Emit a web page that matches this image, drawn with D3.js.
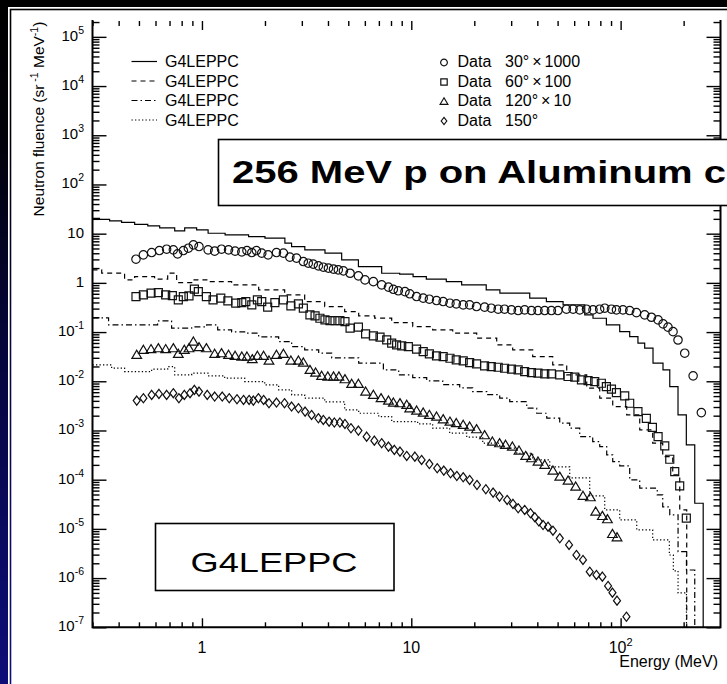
<!DOCTYPE html>
<html>
<head>
<meta charset="utf-8">
<script src="https://cdn.jsdelivr.net/npm/d3@7"></script>
<style>
  html, body { margin: 0; padding: 0; background: #000; }
  svg { display: block; }
  text { font-family: "Liberation Sans", Arial, Helvetica, sans-serif; fill: #000; }
</style>
</head>
<body>
<svg id="chart" width="727" height="684"></svg>
<script>
// ---------------- data ----------------
const energyRange = [0.3, 300];          // MeV
const fluenceRange = [1e-7, 2.1e5];      // sr^-1 MeV^-1

const xTickMajor = [1, 10, 100];
const xTickLabels = ["1", "10", "10^2"];
const yTickExponents = [5, 4, 3, 2, 1, 0, -1, -2, -3, -4, -5, -6, -7];

// G4LEPPC histograms (bin edges in MeV, one value per bin)
const g4Edges30 = [0.3, 0.324, 0.362, 0.413, 0.477, 0.551, 0.628, 0.741, 0.827, 0.943,
  1.07, 1.29, 1.67, 2.0, 2.49, 2.68, 3.1, 3.87, 4.65, 5.59,
  7.22, 8.8, 10.2, 11.8, 14.7, 17.4, 22.8, 26.5, 36.8, 44.2,
  53.1, 67.4, 73.8, 85.5, 99, 110.5, 121, 130.3, 142.8, 159.4,
  171.7, 188, 206, 226, 248];
const g4Values30 = [20.5, 19.5, 18.2, 17.0, 15.5, 14.4, 13.1, 11.4, 13.1, 11.9,
  10.2, 9.46, 8.74, 8.11, 6.41, 5.47, 4.69, 4.02, 2.94, 2.14,
  1.57, 1.5, 1.34, 1.19, 1.06, 0.91, 0.72, 0.618, 0.489, 0.417,
  0.357, 0.224, 0.191, 0.140, 0.102, 0.081, 0.0594, 0.047, 0.0233, 0.0170,
  0.0078, 0.00207, 0.00051, 3.32e-5];

const g4Edges60 = [0.3, 0.332, 0.427, 0.477, 0.594, 0.686, 0.757, 0.893, 1.077, 1.386,
  1.866, 2.484, 3.095, 3.857, 4.806, 5.607, 6.686, 8.06, 10.16, 12.65,
  15.77, 20.53, 25.59, 30.51, 38.02, 47.38, 55.27, 68.87, 79.47, 91.68,
  106.9, 123.4, 142.3, 158.9, 177.4, 191.6, 206.9];
const g4Values60 = [1.84, 1.575, 1.151, 1.343, 1.189, 1.575, 1.014, 1.151, 1.063, 0.911,
  0.721, 0.570, 0.417, 0.330, 0.261, 0.2134, 0.1915, 0.156, 0.1293, 0.1108,
  0.0949, 0.0751, 0.0549, 0.0434, 0.0318, 0.0215, 0.01348, 0.00723, 0.00453, 0.00306,
  0.00207, 0.00103, 0.000551, 0.000294, 0.000125, 2.43e-5];

const g4Edges120 = [0.3, 0.358, 0.614, 0.716, 0.893, 1.053, 1.189, 1.386, 1.600, 1.866,
  2.325, 2.683, 3.095, 3.611, 4.166, 5.607, 7.357, 8.708, 10.16, 11.85,
  14.13, 17.03, 19.65, 22.93, 26.45, 29.53, 35.60, 39.73, 44.37, 51.17,
  57.13, 63.77, 73.56, 79.47, 85.81, 91.68, 99.0, 110.5, 123.4, 149.6,
  158.9, 171.7, 188.1, 206.3, 226];
const g4Values120 = [0.1943, 0.140, 0.1689, 0.120, 0.1274, 0.140, 0.1108, 0.1009, 0.0949, 0.0798,
  0.0641, 0.0507, 0.0434, 0.0372, 0.0299, 0.0233, 0.01703, 0.01348, 0.01188, 0.01018,
  0.00856, 0.00733, 0.00617, 0.00536, 0.00453, 0.00386, 0.00284, 0.00224, 0.001776, 0.001405,
  0.001112, 0.00075, 0.000594, 0.00047, 0.000319, 0.000233, 0.00019, 9.89e-5, 6.71e-5, 4.9e-5,
  2.79e-5, 1.92e-5, 3.45e-6, 1.46e-6];

const g4Edges150 = [0.3, 0.3703, 0.427, 0.575, 0.686, 0.741, 0.893, 1.077, 1.284, 1.600,
  1.994, 2.325, 2.683, 3.095, 3.857, 4.806, 5.607, 6.988, 8.06, 10.73,
  12.65, 15.25, 18.40, 21.94, 26.45, 31.89, 38.02, 45.86, 57.13, 71.17,
  83.95, 99.0, 119.4, 142.3, 170.9, 178.6, 188.1, 206.3];
const g4Values150 = [0.02153, 0.01845, 0.01573, 0.01761, 0.01988, 0.01348, 0.0146, 0.01286, 0.01155, 0.00985,
  0.00844, 0.00668, 0.00528, 0.00453, 0.00381, 0.00262, 0.00224, 0.00191, 0.001515, 0.00136,
  0.001112, 0.00088, 0.00073, 0.000551, 0.000436, 0.000345, 0.000252, 0.000182, 0.0001086, 4.68e-5,
  2.43e-5, 1.52e-5, 9.52e-6, 5.96e-6, 2.95e-6, 1.4e-6, 4.99e-7];

// Measured data points
const data30E = [0.484, 0.525, 0.575, 0.626, 0.678, 0.730, 0.765, 0.815, 0.861, 0.910,
  0.968, 1.07, 1.15, 1.24, 1.34, 1.44, 1.55, 1.64, 1.73, 1.82,
  1.93, 2.07, 2.27, 2.45, 2.63, 2.83, 3.05, 3.22, 3.40, 3.60,
  3.80, 4.02, 4.25, 4.48, 4.74, 5.10, 5.59, 6.01, 6.59, 7.22,
  7.78, 8.21, 8.67, 9.33, 9.83, 10.6, 11.4, 12.2, 13.2, 14.2,
  15.3, 16.4, 17.7, 19.0, 20.5, 22.4, 24.1, 26.0, 27.9, 30.1,
  32.4, 34.8, 37.5, 40.3, 43.4, 46.7, 50.2, 55.1, 59.3, 63.8,
  68.7, 73.8, 79.4, 84.0, 90.4, 95.5, 102.6, 110.5, 119, 130.3,
  140.3, 151, 159.5, 168.4, 178, 188, 202.4, 222, 243];
const data30V = [3.03, 3.71, 4.13, 4.54, 4.84, 4.69, 3.89, 4.54, 5.07, 5.92,
  5.47, 4.69, 4.41, 4.84, 4.69, 4.41, 4.27, 4.54, 4.13, 4.54,
  4.02, 3.71, 4.13, 4.02, 3.33, 3.18, 2.71, 2.51, 2.40, 2.22,
  2.08, 1.99, 1.90, 1.84, 1.75, 1.57, 1.39, 1.15, 1.06, 0.91,
  0.82, 0.74, 0.69, 0.665, 0.60, 0.527, 0.489, 0.466, 0.437, 0.417,
  0.386, 0.374, 0.357, 0.357, 0.330, 0.321, 0.306, 0.292, 0.292, 0.283,
  0.274, 0.283, 0.274, 0.274, 0.274, 0.274, 0.274, 0.292, 0.292, 0.283,
  0.292, 0.283, 0.292, 0.306, 0.292, 0.283, 0.283, 0.274, 0.249, 0.224,
  0.200, 0.177, 0.147, 0.126, 0.102, 0.069, 0.0372, 0.0129, 0.00231];

const data60E = [0.484, 0.525, 0.571, 0.619, 0.671, 0.722, 0.771, 0.815, 0.867, 0.920,
  0.961, 1.05, 1.13, 1.23, 1.33, 1.45, 1.55, 1.62, 1.73, 1.84,
  1.93, 2.06, 2.23, 2.45, 2.66, 2.89, 3.05, 3.28, 3.47, 3.66,
  3.87, 4.09, 4.32, 4.56, 4.82, 5.10, 5.59, 6.05, 6.59, 7.09,
  7.63, 8.06, 8.51, 9.00, 9.68, 10.6, 11.4, 12.2, 13.2, 14.2,
  15.3, 16.4, 17.7, 19.0, 20.5, 22.4, 24.1, 26.0, 27.9, 30.1,
  32.4, 34.8, 37.5, 40.3, 43.4, 46.7, 51.2, 56.1, 60.4, 65.0,
  69.9, 75.2, 80.9, 85.5, 90.4, 95.5, 104.6, 110.5, 121, 132.7,
  141.8, 151, 162.5, 171.7, 181.3, 191.5, 206];
const data60V = [0.527, 0.570, 0.618, 0.635, 0.570, 0.552, 0.451, 0.527, 0.544, 0.745,
  0.665, 0.527, 0.451, 0.489, 0.431, 0.386, 0.398, 0.417, 0.357, 0.451,
  0.417, 0.321, 0.398, 0.451, 0.341, 0.374, 0.306, 0.224, 0.213, 0.191,
  0.177, 0.171, 0.171, 0.171, 0.163, 0.120, 0.126, 0.0919, 0.0837, 0.0787,
  0.0694, 0.0594, 0.0549, 0.0524, 0.0507, 0.0449, 0.0401, 0.0360, 0.0328, 0.0318,
  0.0294, 0.0272, 0.0260, 0.0240, 0.0226, 0.0205, 0.0199, 0.0193, 0.0184, 0.0176,
  0.0170, 0.0157, 0.0150, 0.0146, 0.0141, 0.0141, 0.0135, 0.0125, 0.0121, 0.0107,
  0.0103, 0.00985, 0.00912, 0.00780, 0.00690, 0.00589, 0.00505, 0.00358, 0.00242, 0.00177,
  0.00116, 0.00075, 0.000485, 0.00026, 0.000146, 7.46e-5, 1.65e-5];

const data120E = [0.488, 0.525, 0.571, 0.619, 0.671, 0.730, 0.771, 0.824, 0.867, 0.910,
  0.968, 1.05, 1.15, 1.24, 1.34, 1.44, 1.55, 1.64, 1.74, 1.84,
  1.97, 2.09, 2.27, 2.45, 2.66, 2.89, 3.05, 3.28, 3.49, 3.73,
  3.99, 4.25, 4.51, 4.82, 5.19, 5.59, 6.05, 6.59, 7.17, 7.78,
  8.21, 8.83, 9.51, 9.83, 10.6, 11.4, 12.2, 13.2, 14.2, 15.3,
  16.4, 17.7, 19.0, 20.5, 22.4, 24.4, 26.4, 28.2, 30.4, 32.7,
  35.2, 37.5, 40.3, 43.4, 47.5, 51.2, 56.1, 61.0, 66.1, 71.7,
  76.0, 81.8, 86.5, 91.4, 96.1];
const data120V = [0.0344, 0.0435, 0.0449, 0.0470, 0.0449, 0.0470, 0.0360, 0.0435, 0.0470, 0.0641,
  0.0493, 0.0470, 0.0360, 0.0372, 0.0344, 0.0328, 0.0318, 0.0318, 0.0281, 0.0328,
  0.0328, 0.0263, 0.0344, 0.0360, 0.0263, 0.0263, 0.0240, 0.0170, 0.0150, 0.0129,
  0.0125, 0.0125, 0.0125, 0.0110, 0.00885, 0.00885, 0.00617, 0.00529, 0.00453, 0.00405,
  0.00368, 0.00358, 0.00331, 0.00283, 0.00254, 0.00231, 0.00207, 0.00191, 0.00169, 0.00151,
  0.00141, 0.00130, 0.00120, 0.00106, 0.00080, 0.000594, 0.000551, 0.000509, 0.00047, 0.00039,
  0.000304, 0.000273, 0.000233, 0.000200, 0.000153, 0.000115, 9.57e-5, 7.23e-5, 4.68e-5, 4.40e-5,
  2.24e-5, 1.83e-5, 1.57e-5, 7.89e-6, 6.76e-6];

const data150E = [0.488, 0.525, 0.575, 0.623, 0.678, 0.730, 0.776, 0.824, 0.877, 0.920,
  0.968, 1.06, 1.15, 1.25, 1.35, 1.47, 1.58, 1.68, 1.76, 1.86,
  1.97, 2.09, 2.27, 2.48, 2.68, 2.89, 3.11, 3.34, 3.60, 3.80,
  4.05, 4.29, 4.56, 4.82, 5.15, 5.59, 6.12, 6.66, 7.22, 7.78,
  8.30, 8.83, 9.51, 10.4, 11.2, 12.2, 13.3, 14.3, 15.4, 16.5,
  17.7, 19.0, 20.6, 22.7, 24.6, 26.4, 28.7, 30.6, 32.4, 34.8,
  37.1, 38.9, 40.7, 42.6, 45.0, 47.5, 51.2, 56.7, 61.5, 66.1,
  71.2, 76.6, 81.8, 87.1, 91.4, 96.1, 106.6];
const data150V = [0.00405, 0.00453, 0.00529, 0.00554, 0.00529, 0.00573, 0.00453, 0.00529, 0.00573, 0.00668,
  0.00617, 0.00529, 0.00489, 0.00489, 0.00453, 0.00432, 0.00418, 0.00418, 0.00405, 0.00453,
  0.00418, 0.00358, 0.00369, 0.00358, 0.00306, 0.00283, 0.00242, 0.00207, 0.00177, 0.00164,
  0.00151, 0.00145, 0.00145, 0.00136, 0.00111, 0.000994, 0.00075, 0.000622, 0.000551, 0.00047,
  0.000403, 0.000372, 0.000304, 0.000294, 0.000252, 0.000208, 0.000171, 0.000153, 0.000135, 0.000119,
  0.000112, 9.89e-5, 7.82e-5, 6.4e-5, 5.46e-5, 4.53e-5, 3.88e-5, 3.22e-5, 2.63e-5, 2.43e-5,
  2.08e-5, 1.73e-5, 1.41e-5, 1.2e-5, 1.11e-5, 9.2e-6, 6.45e-6, 4.72e-6, 2.95e-6, 2.34e-6,
  1.35e-6, 1.16e-6, 1.07e-6, 6.92e-7, 5.06e-7, 3.48e-7, 1.64e-7];

const lineLegendLabels = ["G4LEPPC", "G4LEPPC", "G4LEPPC", "G4LEPPC"];
const dataLegendAngles = ["30°", "60°", "120°", "150°"];
const dataLegendFactors = ["1000", "100", "10", ""];
const titleText = "256 MeV p on Aluminum c";
const modelText = "G4LEPPC";

// ---------------- drawing ----------------
const W = 727, H = 684;
const svg = d3.select("#chart");
const defs = svg.append("defs");

// slide background: black at the top fading to navy at the bottom
const grad = defs.append("linearGradient").attr("id", "bg")
  .attr("gradientUnits", "userSpaceOnUse")
  .attr("x1", 0).attr("y1", 0).attr("x2", 0).attr("y2", H);
[[0, "#000000"], [0.2, "#01010a"], [0.5, "#05053a"], [0.8, "#0a0a62"], [1, "#0d0d78"]]
  .forEach(([o, c]) => grad.append("stop").attr("offset", o).attr("stop-color", c));

svg.append("rect").attr("width", W).attr("height", H).attr("fill", "url(#bg)");
svg.append("rect").attr("x", 8).attr("y", 7).attr("width", W - 8).attr("height", H - 7).attr("fill", "#fff");
svg.append("rect").attr("x", 10.5).attr("y", 9.5).attr("width", W).attr("height", H)
  .attr("fill", "none").attr("stroke", "url(#bg)").attr("stroke-width", 1.6);

const plot = { left: 92.5, right: 720.5, top: 21, bottom: 627.3 };
const x = d3.scaleLog().domain(energyRange).range([plot.left, plot.right]);
const y = d3.scaleLog().domain(fluenceRange).range([plot.bottom, plot.top]);

defs.append("clipPath").attr("id", "plotClip").append("rect")
  .attr("x", plot.left).attr("y", plot.top - 2)
  .attr("width", plot.right - plot.left).attr("height", plot.bottom - plot.top + 2);

// minor tick values
const xMinor = [];
[0.1, 1, 10, 100].forEach(d => { for (let k = 2; k <= 9; k++) { const v = d * k; if (v > energyRange[0] && v < energyRange[1] && !xTickMajor.includes(v)) xMinor.push(v); } });
const yMajor = yTickExponents.map(e => Math.pow(10, e));
const yMinor = [];
for (let e = -7; e <= 5; e++) for (let k = 2; k <= 9; k++) { const v = k * Math.pow(10, e); if (v < fluenceRange[1]) yMinor.push(v); }

function drawTicks(axis, transform) {
  const g = svg.append("g").attr("transform", transform).call(axis);
  g.select(".domain").remove();
  g.selectAll("line").attr("stroke", "#000").attr("stroke-width", 1.4);
  g.selectAll("text").remove();
  return g;
}
drawTicks(d3.axisBottom(x).tickValues(xTickMajor).tickSize(-9).tickFormat(""), `translate(0,${plot.bottom})`);
drawTicks(d3.axisBottom(x).tickValues(xMinor).tickSize(-5).tickFormat(""), `translate(0,${plot.bottom})`);
drawTicks(d3.axisTop(x).tickValues(xTickMajor).tickSize(-9).tickFormat(""), `translate(0,${plot.top})`);
drawTicks(d3.axisTop(x).tickValues(xMinor).tickSize(-5).tickFormat(""), `translate(0,${plot.top})`);
drawTicks(d3.axisLeft(y).tickValues(yMajor).tickSize(-14).tickFormat(""), `translate(${plot.left},0)`);
drawTicks(d3.axisLeft(y).tickValues(yMinor).tickSize(-7).tickFormat(""), `translate(${plot.left},0)`);
drawTicks(d3.axisRight(y).tickValues(yMajor).tickSize(-14).tickFormat(""), `translate(${plot.right},0)`);
drawTicks(d3.axisRight(y).tickValues(yMinor).tickSize(-7).tickFormat(""), `translate(${plot.right},0)`);

// frame: left, bottom and right edges
const frame = svg.append("g").attr("stroke", "#000").attr("stroke-width", 2).attr("fill", "none");
frame.append("path").attr("d", `M${plot.left},${plot.top - 1}V${plot.bottom}H${plot.right}V${plot.top - 1}`);

// tick labels
function powLabel(sel, base, exp, supSize, supDy) {
  sel.append("tspan").text(base);
  if (exp !== null) sel.append("tspan").attr("font-size", supSize).attr("dy", supDy).text(exp);
}
yTickExponents.forEach(e => {
  const t = svg.append("text").attr("x", 84).attr("y", y(Math.pow(10, e)) + 4)
    .attr("text-anchor", "end").attr("font-size", 15);
  if (e === 0) powLabel(t, "1", null);
  else if (e === 1) powLabel(t, "10", null);
  else powLabel(t, "10", String(e), 10.5, -7);
});
xTickMajor.forEach((v, i) => {
  const lab = xTickLabels[i];
  const t = svg.append("text").attr("x", x(v)).attr("y", 653)
    .attr("text-anchor", "middle").attr("font-size", 16);
  if (lab.includes("^")) { const [b, e] = lab.split("^"); powLabel(t, b, e, 11, -7); }
  else powLabel(t, lab, null);
});
svg.append("text").attr("x", 718).attr("y", 667).attr("text-anchor", "end")
  .attr("font-size", 16).text("Energy (MeV)");

// y axis title
const yt = svg.append("text").attr("transform", "translate(44,119) rotate(-90)")
  .attr("text-anchor", "middle").attr("font-size", 15.5);
yt.append("tspan").text("Neutron fluence (sr");
yt.append("tspan").attr("font-size", 10.5).attr("dy", -6).text(" -1");
yt.append("tspan").attr("dy", 6).text(" MeV");
yt.append("tspan").attr("font-size", 10.5).attr("dy", -6).text("-1");
yt.append("tspan").attr("dy", 6).text(")");

// histogram lines
const dashStyles = [null, "5,4", "6,3,1.5,3", "1.3,2.2"];
const histos = [[g4Edges30, g4Values30], [g4Edges60, g4Values60], [g4Edges120, g4Values120], [g4Edges150, g4Values150]];
const stepLine = d3.line().x(d => x(d[0])).y(d => y(d[1])).curve(d3.curveStepAfter);
const plotG = svg.append("g").attr("clip-path", "url(#plotClip)");
histos.forEach(([edges, vals], i) => {
  const pts = vals.map((v, k) => [edges[k], v]);
  const last = edges[edges.length - 1];
  pts.push([last, vals[vals.length - 1]]);
  pts.push([last, fluenceRange[0]]);
  plotG.append("path").attr("d", stepLine(pts)).attr("fill", "none")
    .attr("stroke", "#000").attr("stroke-width", 1.2)
    .attr("stroke-dasharray", dashStyles[i]);
});

// marker shapes
function shapePath(kind, s) {
  if (kind === "circle") return `M${-s},0a${s},${s} 0 1,0 ${2 * s},0a${s},${s} 0 1,0 ${-2 * s},0Z`;
  if (kind === "square") return `M${-s},${-s}H${s}V${s}H${-s}Z`;
  if (kind === "triangle") return `M0,${-s * 1.05}L${s * 1.1},${s * 0.8}H${-s * 1.1}Z`;
  return `M0,${-s * 1.3}L${s},0L0,${s * 1.3}L${-s},0Z`;
}
const markerKinds = ["circle", "square", "triangle", "diamond"];
const markerSizes = [4.2, 4.0, 4.4, 3.5];
const dataSets = [[data30E, data30V], [data60E, data60V], [data120E, data120V], [data150E, data150V]];
dataSets.forEach(([es, vs], i) => {
  plotG.append("g").selectAll("path").data(es.map((e, k) => [e, vs[k]])).join("path")
    .attr("transform", d => `translate(${x(d[0])},${y(d[1])})`)
    .attr("d", shapePath(markerKinds[i], markerSizes[i]))
    .attr("fill", "none").attr("stroke", "#111").attr("stroke-width", 1.2);
});

// legends
const rowsY = [61.5, 81, 100.5, 120];
rowsY.forEach((ry, i) => {
  svg.append("line").attr("x1", 131.5).attr("x2", 157).attr("y1", ry).attr("y2", ry)
    .attr("stroke", "#000").attr("stroke-width", 1.2).attr("stroke-dasharray", dashStyles[i]);
  svg.append("text").attr("x", 165).attr("y", ry + 5.5).attr("font-size", 16).text(lineLegendLabels[i]);

  svg.append("path").attr("transform", `translate(444,${ry + 1})`)
    .attr("d", shapePath(markerKinds[i], markerSizes[i] * 0.8))
    .attr("fill", "none").attr("stroke", "#111").attr("stroke-width", 1.2);
  svg.append("text").attr("x", 457.5).attr("y", ry + 5.5).attr("font-size", 16).text("Data");
  const t = svg.append("text").attr("x", 505).attr("y", ry + 5.5).attr("font-size", 16);
  t.append("tspan").text(dataLegendAngles[i]);
  if (dataLegendFactors[i]) {
    t.append("tspan").attr("dx", 3).text("×");
    t.append("tspan").attr("dx", 3).text(dataLegendFactors[i]);
  }
});

// title box (runs off the right edge)
svg.append("rect").attr("x", 218.5).attr("y", 139.5).attr("width", 600).attr("height", 66)
  .attr("fill", "#fff").attr("stroke", "#000").attr("stroke-width", 1.6);
svg.append("text").attr("x", 232).attr("y", 183).attr("font-size", 32).attr("font-weight", "bold")
  .attr("textLength", 494).attr("lengthAdjust", "spacingAndGlyphs").text(titleText);

// model label box
svg.append("rect").attr("x", 155.5).attr("y", 523.5).attr("width", 238.5).attr("height", 67)
  .attr("fill", "#fff").attr("stroke", "#000").attr("stroke-width", 1.6);
svg.append("text").attr("x", 190.5).attr("y", 572).attr("font-size", 28)
  .attr("textLength", 167).attr("lengthAdjust", "spacingAndGlyphs").text(modelText);
</script>
</body>
</html>
